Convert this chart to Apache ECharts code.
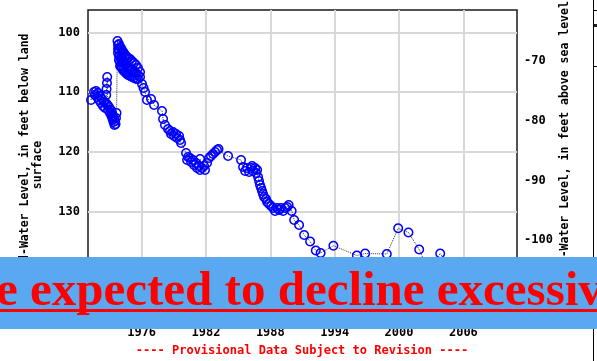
<!DOCTYPE html>
<html>
<head>
<meta charset="utf-8">
<script src="https://cdn.jsdelivr.net/npm/echarts@6/dist/echarts.min.js"></script>
<style>
  html, body { margin: 0; padding: 0; background: #fff; }
  #chart { width: 597px; height: 361px; }
</style>
</head>
<body>
<div id="chart"></div>
<script>
// Axis ticks
const yearTicks = [1976, 1982, 1988, 1994, 2000, 2006];
const depthTicks = [100, 110, 120, 130, 140];
const altitudeTicks = [-110, -100, -90, -80, -70];

// Land-surface altitude used for the right-hand (sea level) scale
const landSurfaceAltitude = 34.8;

// Measurement dates (decimal years)
const measuredYears = [
  1971.28,
  1971.56, 1971.65, 1971.75, 1971.84, 1971.93, 1972.03, 1972.12, 1972.21, 1972.31, 1972.40,
  1972.49, 1972.59, 1972.68, 1972.70, 1972.73, 1972.77, 1972.79, 1972.82, 1972.87, 1972.96,
  1973.05, 1973.15, 1973.19, 1973.24, 1973.29, 1973.33, 1973.38, 1973.43, 1973.47, 1973.52,
  1973.57, 1973.61, 1973.66,
  1973.75, 1973.80, 1973.80, 1973.80, 1973.89, 1973.89, 1973.89, 1973.89, 1973.99, 1973.99,
  1973.99, 1973.99, 1974.08, 1974.08, 1974.08, 1974.17, 1974.17, 1974.17, 1974.26, 1974.26,
  1974.26, 1974.36, 1974.36, 1974.36, 1974.45, 1974.45, 1974.45, 1974.54, 1974.54, 1974.54,
  1974.64, 1974.64, 1974.64, 1974.73, 1974.73, 1974.73, 1974.92, 1974.92, 1974.92, 1975.10,
  1975.10, 1975.10, 1975.29, 1975.29, 1975.29, 1975.48, 1975.48, 1975.48, 1975.66, 1975.66,
  1975.66, 1975.85, 1975.85,
  1976.04, 1976.18, 1976.32, 1976.50, 1976.88, 1977.16, 1977.90, 1978.00, 1978.18,
  1978.46, 1978.65, 1978.74, 1978.93, 1979.02, 1979.21, 1979.30, 1979.49, 1979.58, 1979.68,
  1980.14, 1980.33, 1980.24, 1980.51, 1980.61, 1980.79, 1980.89, 1981.07, 1981.17, 1981.35,
  1981.45, 1981.45, 1981.63, 1981.82, 1981.91, 1982.10, 1982.29, 1982.47, 1982.66, 1982.85,
  1983.03, 1983.17, 1984.06, 1985.27,
  1985.46, 1985.65, 1985.83, 1986.02, 1986.21, 1986.39, 1986.30, 1986.58, 1986.67, 1986.77,
  1986.86, 1986.95, 1987.04, 1987.14, 1987.23, 1987.32, 1987.42, 1987.60, 1987.70, 1987.88,
  1988.07, 1988.26, 1988.44, 1988.63, 1988.82, 1989.00, 1989.19, 1989.38, 1989.57, 1989.71,
  1989.99, 1990.22, 1990.68, 1991.15, 1991.71, 1992.24, 1992.69, 1993.88, 1996.07, 1996.84,
  1998.86, 1999.92, 2000.88, 2001.88, 2002.72, 2003.84, 2004.95
];

// Depth to water, feet below land surface
const depthsBelowLand = [
  111.31,
  109.97, 110.47, 109.80, 110.80, 110.13, 111.31, 110.64, 111.81, 111.14, 112.31,
  111.64, 112.65, 111.81, 110.47, 109.46, 108.46, 107.45, 112.14, 112.98, 112.48,
  113.48, 112.98, 113.99, 113.48, 114.49, 113.99, 114.99, 114.49, 115.49, 114.82,
  115.33, 114.32, 113.48,
  101.42, 102.09, 102.76, 103.43, 101.93, 102.93, 103.94, 104.61, 102.43, 103.77,
  104.94, 105.61, 102.60, 104.27, 105.61, 102.93, 104.61, 105.95, 103.27, 104.94,
  106.28, 103.43, 105.11, 106.45, 103.77, 105.28, 106.62, 103.94, 105.44, 106.78,
  104.10, 105.78, 106.95, 104.27, 105.95, 107.12, 104.44, 106.11, 107.29, 104.77,
  106.28, 107.45, 105.11, 106.45, 107.62, 105.44, 106.78, 107.79, 105.95, 107.12,
  107.79, 106.62, 107.45,
  108.63, 109.30, 109.97, 111.31, 111.14, 112.14, 113.15, 114.49, 115.49,
  116.16, 116.50, 117.00, 116.66, 117.34, 117.00, 117.67, 117.34, 118.01, 118.51,
  120.18, 120.85, 121.36, 121.03, 121.69, 121.36, 122.19, 121.86, 122.70, 122.36,
  123.03, 121.19, 122.70, 122.36, 123.03, 121.86, 121.03, 120.69, 120.35, 120.02,
  119.68, 119.51, 120.69, 121.36,
  122.53, 123.19, 122.70, 123.36, 122.70, 123.19, 122.36, 122.70, 123.53, 123.03,
  124.20, 124.87, 125.54, 126.05, 126.55, 127.05, 127.55, 127.89, 128.39, 128.73,
  129.06, 129.40, 129.90, 129.40, 129.73, 129.40, 129.90, 129.40, 129.23, 128.89,
  129.90, 131.41, 132.24, 133.92, 135.01, 136.52, 136.93, 135.71, 137.35, 137.02,
  137.10, 132.80, 133.50, 136.35, 139.80, 137.02, 139.80
];

const bannerText = 're expected to decline excessiv';
const leftTitle = ['Ground-Water Level, in feet below land', 'surface'];
const rightTitle = 'Ground-Water Level, in feet above sea level';
const footnote = '---- Provisional Data Subject to Revision ----';

const depthMin = 96.23, depthMax = 148.66;

const chart = echarts.init(document.getElementById('chart'), null, { renderer: 'canvas' });

const monoBold = { fontFamily: 'DejaVu Sans Mono', fontWeight: 'bold', fontSize: 12, color: '#000' };

// Place the banner sentence so that its second word starts just inside the left edge
const bannerFont = 'bold 49px "Liberation Serif"';
const measureCtx = document.createElement('canvas').getContext('2d');
measureCtx.font = bannerFont;
const bannerX = 30 - measureCtx.measureText('re ').width;

chart.setOption({
  animation: false,
  backgroundColor: '#fff',
  grid: {
    left: 88, right: 80, top: 10, bottom: 38,
    show: true, borderColor: '#1a1a1a', borderWidth: 1.5,
    backgroundColor: 'transparent',
    outerBoundsMode: 'none'
  },
  xAxis: {
    type: 'value', min: 1971, max: 2011,
    axisLine: { show: false }, axisTick: { show: false, customValues: yearTicks },
    axisLabel: Object.assign({ customValues: yearTicks, margin: 4, formatter: v => String(v) }, monoBold),
    splitLine: { show: true, lineStyle: { color: '#d8d8d8', width: 2 } }
  },
  yAxis: [{
    type: 'value', inverse: true, min: depthMin, max: depthMax,
    axisLine: { show: false }, axisTick: { show: false, customValues: depthTicks },
    axisLabel: Object.assign({ customValues: depthTicks, margin: 8, formatter: v => String(v) }, monoBold),
    splitLine: { show: true, lineStyle: { color: '#d8d8d8', width: 2 } }
  }, {
    type: 'value', position: 'right',
    min: landSurfaceAltitude - depthMax, max: landSurfaceAltitude - depthMin,
    axisLine: { show: false }, axisTick: { show: false, customValues: altitudeTicks },
    axisLabel: Object.assign({ customValues: altitudeTicks, margin: 7, formatter: v => String(v) }, monoBold),
    splitLine: { show: false }
  }],
  series: [{
    type: 'line',
    yAxisIndex: 0,
    data: measuredYears.map((t, i) => [t, depthsBelowLand[i]]),
    symbol: 'circle', symbolSize: 8.5, showSymbol: true,
    itemStyle: { color: 'rgba(255,255,255,0)', borderColor: '#0000ff', borderWidth: 1.5 },
    lineStyle: { color: '#333', width: 1, type: 'dotted' },
    emphasis: { disabled: true },
    clip: true,
    z: 3
  }],
  graphic: [
    // axis titles
    { type: 'text', x: 25, y: 165, rotation: Math.PI / 2, z: 10,
      style: { text: leftTitle[0], font: 'bold 11.5px "DejaVu Sans Mono"', fill: '#000', align: 'center', verticalAlign: 'middle' } },
    { type: 'text', x: 38.5, y: 165, rotation: Math.PI / 2, z: 10,
      style: { text: leftTitle[1], font: 'bold 11.5px "DejaVu Sans Mono"', fill: '#000', align: 'center', verticalAlign: 'middle' } },
    { type: 'text', x: 565, y: 150, rotation: Math.PI / 2, z: 10,
      style: { text: rightTitle, font: 'bold 11.5px "DejaVu Sans Mono"', fill: '#000', align: 'center', verticalAlign: 'middle' } },
    // footnote
    { type: 'text', x: 302, y: 351, z: 10,
      style: { text: footnote, font: 'bold 12px "DejaVu Sans Mono"', fill: '#ff0000', align: 'center', verticalAlign: 'middle' } },
    // explanation box edge at the right margin
    { type: 'line', z: 10, shape: { x1: 593.5, y1: 0, x2: 593.5, y2: 361 }, style: { stroke: '#000', lineWidth: 1 } },
    { type: 'line', z: 10, shape: { x1: 593, y1: 10.5, x2: 597, y2: 10.5 }, style: { stroke: '#000', lineWidth: 1 } },
    { type: 'line', z: 10, shape: { x1: 593, y1: 66.5, x2: 597, y2: 66.5 }, style: { stroke: '#000', lineWidth: 1 } },
    { type: 'rect', z: 10, shape: { x: 594, y: 24, width: 3, height: 3 }, style: { fill: '#222' } },
    // banner
    { type: 'rect', z: 20, shape: { x: 0, y: 257, width: 597, height: 72 }, style: { fill: '#5aa9f0' } },
    { type: 'text', z: 21, x: bannerX, y: 292,
      style: { text: bannerText, font: bannerFont, fill: '#ff0000', align: 'left', verticalAlign: 'middle' } },
    { type: 'rect', z: 21, shape: { x: 0, y: 309, width: 597, height: 3 }, style: { fill: '#ff0000' } }
  ]
});
</script>
</body>
</html>
